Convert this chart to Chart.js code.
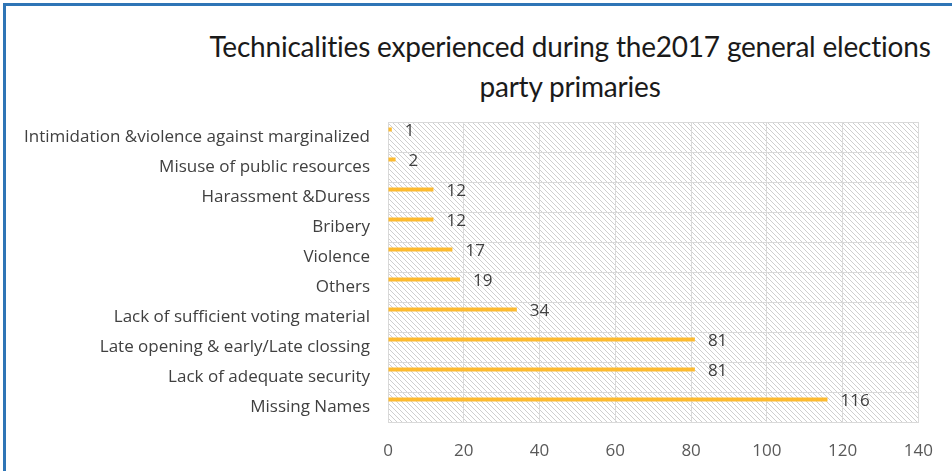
<!DOCTYPE html>
<html>
<head>
<meta charset="utf-8">
<script src="https://cdn.jsdelivr.net/npm/chart.js@4.4.1/dist/chart.umd.min.js"></script>
<style>
html,body{margin:0;padding:0;background:#fff;}
#wrap{position:relative;width:952px;height:471px;overflow:hidden;}
#frame{position:absolute;left:3px;top:3px;width:960px;height:480px;border-left:3px solid #2e75b6;border-top:3px solid #2e75b6;box-sizing:border-box;}
#title{position:absolute;left:0;width:1140px;top:26px;text-align:center;font-family:Lato,"Open Sans",sans-serif;font-size:28px;line-height:40px;color:#1a1a1a;letter-spacing:-0.2px;}
canvas{position:absolute;left:0;top:0;}
</style>
</head>
<body>
<div id="wrap">
<div id="frame"></div>
<div id="title">Technicalities experienced during the2017 general elections<br>party primaries</div>
<canvas id="chart" width="952" height="471"></canvas>
</div>
<script>
let categories=["Intimidation &violence against marginalized","Misuse of public resources","Harassment &Duress","Bribery","Violence","Others","Lack of sufficient voting material","Late opening & early/Late clossing","Lack of adequate security","Missing Names"];
let counts=[1,2,12,12,17,19,34,81,81,116];
let xTicks=[0,20,40,60,80,100,120,140];

let font="'Open Sans', Lato, sans-serif";

function hatch(){
let c=document.createElement("canvas");
c.width=5;c.height=5;
let g=c.getContext("2d");
g.strokeStyle="#cfcfcf";g.lineWidth=1;
g.beginPath();
g.moveTo(0,0);g.lineTo(5,5);
g.moveTo(-1,4);g.lineTo(1,6);
g.moveTo(4,-1);g.lineTo(6,1);
g.stroke();
return c;
}

let hatchBg={
id:"hatchBg",
beforeDraw(chart){
let a=chart.chartArea,ctx=chart.ctx;
ctx.save();
ctx.fillStyle=ctx.createPattern(hatch(),"repeat");
ctx.fillRect(a.left,a.top,a.right-a.left,a.bottom-a.top);
ctx.restore();
}
};

let valueLabels={
id:"valueLabels",
afterDatasetsDraw(chart){
let ctx=chart.ctx;
let meta=chart.getDatasetMeta(0);
ctx.save();
ctx.font="17px "+font;
ctx.fillStyle="#404040";
ctx.textBaseline="middle";
ctx.textAlign="left";
meta.data.forEach((el,i)=>{
ctx.fillText(counts[i],el.x+13,el.y+2);
});
ctx.restore();
}
};

// second, empty dataset only pushes the visible bar into the upper half of each band
new Chart(document.getElementById("chart"),{
type:"bar",
data:{
labels:categories,
datasets:[
{data:counts,backgroundColor:"#fdbb30",categoryPercentage:1,barPercentage:0.27},
{data:[],backgroundColor:"transparent",categoryPercentage:1,barPercentage:0.27}
]
},
options:{
indexAxis:"y",
responsive:false,
animation:false,
layout:{padding:{top:122,right:31,left:0,bottom:0}},
plugins:{legend:{display:false},tooltip:{enabled:false}},
scales:{
x:{
min:0,max:140,
afterBuildTicks(s){s.ticks=xTicks.map(v=>({value:v}));},
afterFit(s){s.height=49;},
grid:{color:"#d9d9d9",lineWidth:1,drawTicks:false},
border:{color:"#d9d9d9"},
ticks:{padding:19,color:"#595959",font:{family:font,size:17}}
},
y:{
afterFit(s){s.width=388;},
grid:{color:"#d9d9d9",lineWidth:1,drawTicks:false,offset:true},
border:{color:"#d9d9d9"},
ticks:{padding:18,color:"#404040",font:{family:font,size:17}}
}
}
},
plugins:[hatchBg,valueLabels]
});
</script>
</body>
</html>
